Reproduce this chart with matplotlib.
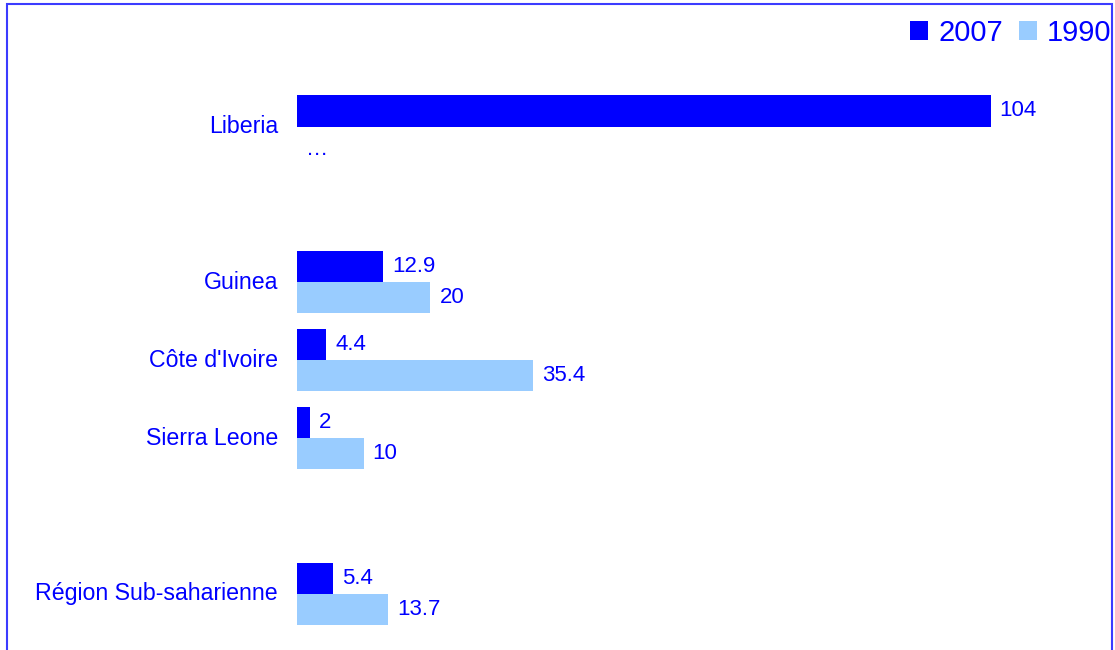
import matplotlib.pyplot as plt
import numpy as np
from matplotlib.patches import Rectangle

plt.rcParams['font.family'] = ['Liberation Sans', 'DejaVu Sans']

# None = empty spacer row
categories = ['Liberia', None, 'Guinea', "Côte d'Ivoire", 'Sierra Leone', None, 'Région Sub-saharienne']
v2007 = [104, np.nan, 12.9, 4.4, 2, np.nan, 5.4]
v1990 = [np.nan, np.nan, 20, 35.4, 10, np.nan, 13.7]

c2007 = '#0000ff'
c1990 = '#99ccff'
txt = '#0000ff'

W, H = 1115, 650
fig = plt.figure(figsize=(W / 100, H / 100), dpi=100)
ax = fig.add_axes([297 / W, 0, 815 / W, 1])

y = np.arange(len(categories))
h = 0.4
ax.barh(y - 0.2, v2007, h, color=c2007, label='2007')
ax.barh(y + 0.2, v1990, h, color=c1990, label='1990')

ax.set_xlim(0, 815 / 6.67)
ax.set_ylim(6.72, -1.624)
ax.axis('off')

for i, name in enumerate(categories):
    if name is None:
        continue
    ax.annotate(name, (0, i), xytext=(-19, 0), textcoords='offset pixels',
                ha='right', va='center', fontsize=16.7, color=txt)
    for val, off in ((v2007[i], -0.2), (v1990[i], 0.2)):
        if np.isnan(val):
            # missing value shown as an ellipsis, sitting a bit lower
            ax.annotate('…', (0, i + off), xytext=(9, -7), textcoords='offset pixels',
                        ha='left', va='center', fontsize=16, color=txt)
        else:
            ax.annotate(f'{val:g}', (val, i + off), xytext=(9, 0), textcoords='offset pixels',
                        ha='left', va='center', fontsize=16, color=txt)

fig.legend(loc='upper right', bbox_to_anchor=(1111 / W, 1 - 19 / H), ncol=2,
           frameon=False, fontsize=21, handlelength=0.62, handleheight=0.62,
           handletextpad=0.33, columnspacing=0.55, borderaxespad=0, borderpad=0,
           labelcolor=txt)

fig.add_artist(Rectangle((7 / W, -0.1), (1112 - 7) / W, 1.1 - 4 / H,
                         transform=fig.transFigure, fill=False,
                         edgecolor='#3b3bff', lw=1.5))

fig.savefig('out.png', dpi=100)
